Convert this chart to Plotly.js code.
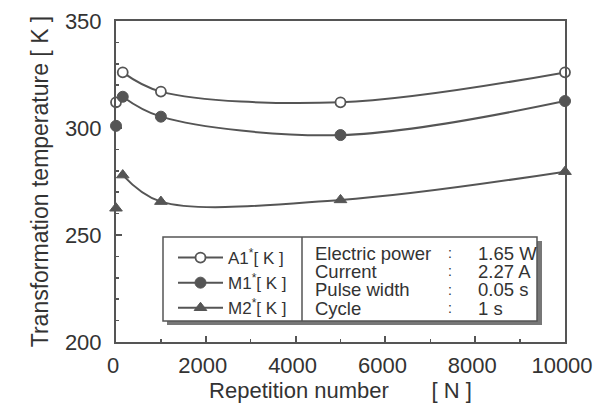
<!DOCTYPE html>
<html><head><meta charset="utf-8">
<script src="https://cdn.plot.ly/plotly-3.0.1.min.js"></script>
<style>body{margin:0;background:#fff}#c{width:593px;height:410px}</style>
</head><body><div id="c"></div>
<script>
var startN = [0];
var curveN = [150, 1000, 5000, 10000];
var a1Start = [312];
var a1Curve = [326, 317, 312, 326];
var m1Start = [301];
var m1Curve = [314.6, 305.3, 296.7, 312.6];
var m2Start = [262.5];
var m2Curve = [278, 265.6, 266.4, 279.6];
var seriesNames = ['A1<sup>*</sup>[ K ]', 'M1<sup>*</sup>[ K ]', 'M2<sup>*</sup>[ K ]'];
var condLabels = ['Electric power', 'Current', 'Pulse width', 'Cycle'];
var condValues = ['1.65 W', '2.27 A', '0.05 s', '1 s'];

var gray = '#555';
var markers = [
  {symbol: 'circle', size: 10, color: '#fff', line: {color: gray, width: 1.8}},
  {symbol: 'circle', size: 11, color: gray, line: {color: gray, width: 1}},
  {symbol: 'triangle-up', size: 11, color: gray, line: {color: gray, width: 1}}
];
var starts = [a1Start, m1Start, m2Start];
var curves = [a1Curve, m1Curve, m2Curve];
var traces = [];
for (var i = 0; i < 3; i++) {
  traces.push({x: curveN, y: curves[i], mode: 'lines+markers', name: seriesNames[i],
    line: {color: gray, width: 2, shape: 'spline', smoothing: 1.0}, marker: markers[i], cliponaxis: false});
  traces.push({x: startN, y: starts[i], mode: 'markers', showlegend: false,
    marker: markers[i], cliponaxis: false});
}

var font = 'Liberation Sans, Arial, sans-serif';
var tc = '#333';
var px = function (v) { return (v - 116) / 449; };
var py = function (v) { return (342 - v) / 321; };

var shapes = [
  {type: 'rect', xref: 'paper', yref: 'paper', x0: px(167), x1: px(542), y0: py(325), y1: py(241),
    fillcolor: '#777', line: {width: 0}, layer: 'above'},
  {type: 'rect', xref: 'paper', yref: 'paper', x0: px(163), x1: px(537), y0: py(321), y1: py(237),
    fillcolor: '#fff', line: {color: gray, width: 1.5}, layer: 'above'},
  {type: 'line', xref: 'paper', yref: 'paper', x0: px(302), x1: px(302), y0: py(321), y1: py(237),
    line: {color: gray, width: 1.5}, layer: 'above'}
];
var rowY = [253, 271, 289.5, 308];
var annotations = [];
for (var j = 0; j < condLabels.length; j++) {
  annotations.push({xref: 'paper', yref: 'paper', x: px(313), y: py(rowY[j]), xanchor: 'left', yanchor: 'middle',
    text: condLabels[j], showarrow: false, font: {family: font, size: 18.5, color: tc}});
  annotations.push({xref: 'paper', yref: 'paper', x: px(450), y: py(rowY[j]), xanchor: 'center', yanchor: 'middle',
    text: ':', showarrow: false, font: {family: font, size: 14, color: tc}});
  annotations.push({xref: 'paper', yref: 'paper', x: px(476), y: py(rowY[j]), xanchor: 'left', yanchor: 'middle',
    text: condValues[j], showarrow: false, font: {family: font, size: 18.5, color: tc}});
}

var layout = {
  width: 593, height: 410,
  margin: {l: 116, r: 28, t: 21, b: 68},
  paper_bgcolor: '#fff', plot_bgcolor: '#fff',
  showlegend: true,
  legend: {x: px(173), y: py(240), xanchor: 'left', yanchor: 'top', bgcolor: 'rgba(0,0,0,0)',
    borderwidth: 0, font: {family: font, size: 17, color: tc}, itemwidth: 45, tracegroupgap: 0},
  xaxis: {range: [0, 10000], dtick: 2000, tick0: 0, tickformat: 'd', ticks: 'inside', ticklen: 6, tickwidth: 2, tickcolor: gray,
    showline: true, linecolor: gray, linewidth: 2, mirror: true, showgrid: false, zeroline: false,
    minor: {dtick: 1000, ticks: 'inside', ticklen: 3, tickwidth: 1.5, tickcolor: gray},
    tickfont: {family: font, size: 22, color: tc}, ticklabelstandoff: 3, ticklabeloverflow: 'allow', ticklabelshift: -3,
    title: {text: 'Repetition number&nbsp;&nbsp;&nbsp;&nbsp;&nbsp;&nbsp;&nbsp;[ N ]', font: {family: font, size: 22, color: tc}, standoff: 4}},
  yaxis: {range: [200, 350], dtick: 50, tick0: 200, ticks: 'inside', ticklen: 6, tickwidth: 2, tickcolor: gray,
    showline: true, linecolor: gray, linewidth: 2, mirror: true, showgrid: false, zeroline: false,
    minor: {dtick: 10, ticks: 'inside', ticklen: 3, tickwidth: 1.5, tickcolor: gray},
    tickfont: {family: font, size: 22, color: tc}, ticklabelstandoff: 8,
    title: {text: 'Transformation temperature [ K ]', font: {family: font, size: 23, color: tc}, standoff: 10}},
  shapes: shapes,
  annotations: annotations
};
Plotly.newPlot('c', traces, layout, {displayModeBar: false, staticPlot: true});
</script></body></html>
